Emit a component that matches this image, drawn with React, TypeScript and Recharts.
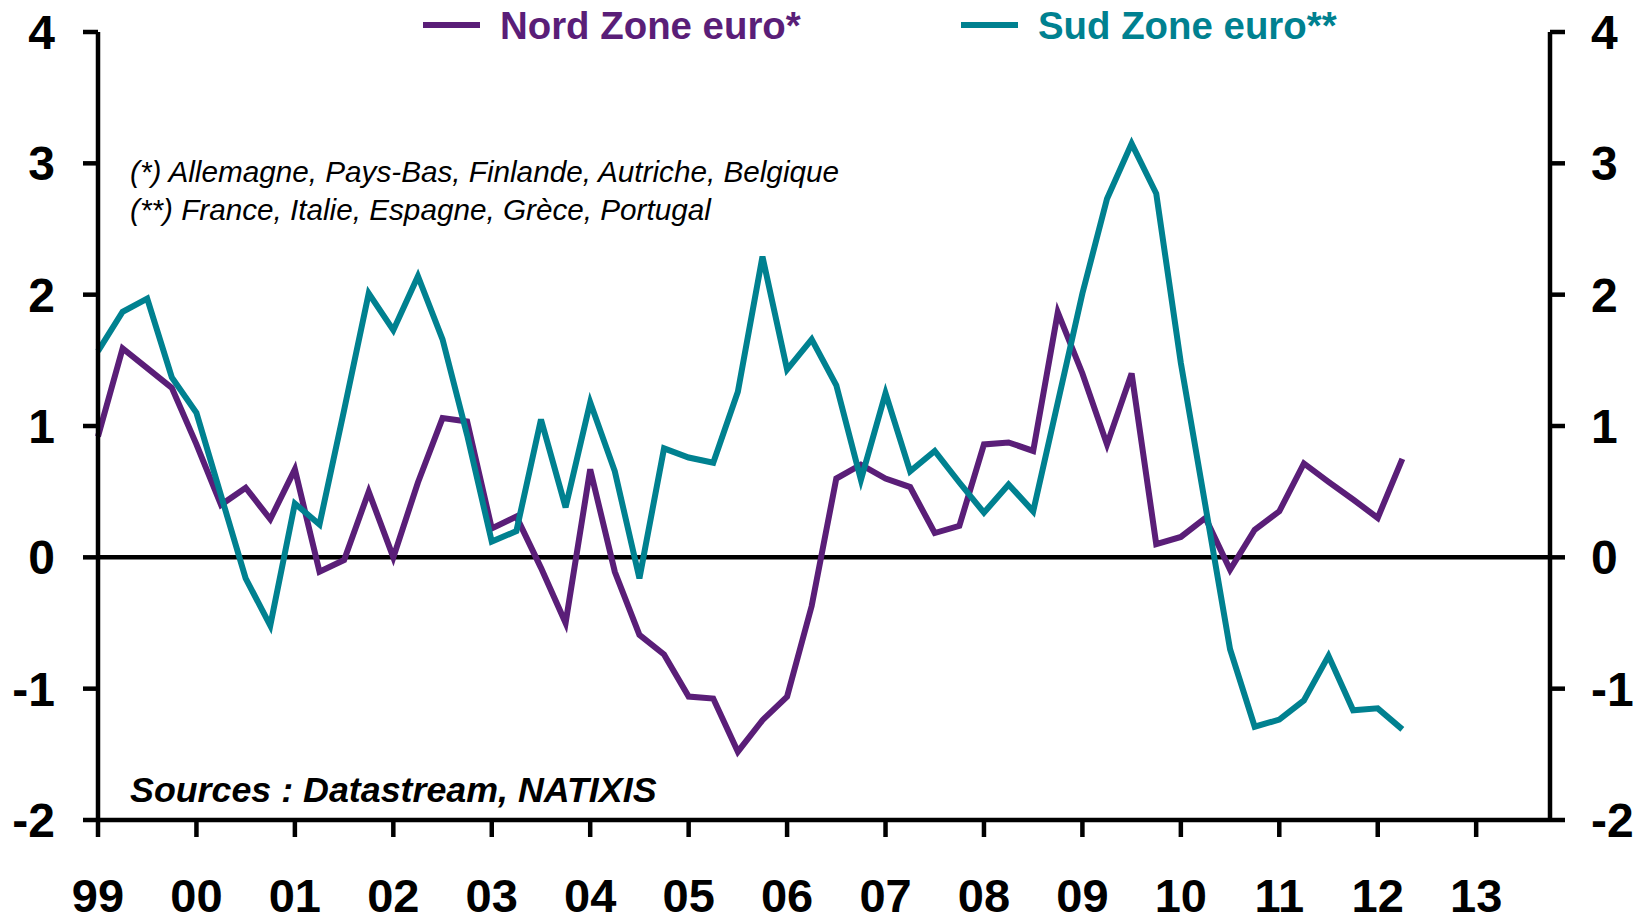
import React from 'react';
import { LineChart, Line, XAxis, YAxis, ReferenceLine, Legend } from 'recharts';

const PURPLE = '#5A1E78';
const TEAL = '#008190';
const FONT = '"Liberation Sans", Arial, Helvetica, sans-serif';

const quarters = [
  '1999T1', '1999T2', '1999T3', '1999T4', '2000T1', '2000T2', '2000T3', '2000T4',
  '2001T1', '2001T2', '2001T3', '2001T4', '2002T1', '2002T2', '2002T3', '2002T4',
  '2003T1', '2003T2', '2003T3', '2003T4', '2004T1', '2004T2', '2004T3', '2004T4',
  '2005T1', '2005T2', '2005T3', '2005T4', '2006T1', '2006T2', '2006T3', '2006T4',
  '2007T1', '2007T2', '2007T3', '2007T4', '2008T1', '2008T2', '2008T3', '2008T4',
  '2009T1', '2009T2', '2009T3', '2009T4', '2010T1', '2010T2', '2010T3', '2010T4',
  '2011T1', '2011T2', '2011T3', '2011T4', '2012T1', '2012T2',
];

const nord = [
  0.92, 1.59, 1.44, 1.29, 0.86, 0.40, 0.53, 0.29,
  0.67, -0.11, -0.02, 0.50, 0.00, 0.57, 1.06, 1.035,
  0.22, 0.31, -0.08, -0.50, 0.67, -0.11, -0.59, -0.74,
  -1.06, -1.075, -1.48, -1.24, -1.06, -0.37, 0.60, 0.705,
  0.60, 0.535, 0.185, 0.24, 0.86, 0.875, 0.81, 1.865,
  1.40, 0.86, 1.40, 0.10, 0.155, 0.30, -0.095, 0.21,
  0.35, 0.715, 0.575, 0.44, 0.30, 0.75,
];

const sud = [
  1.57, 1.87, 1.97, 1.37, 1.10, 0.47, -0.16, -0.52,
  0.41, 0.25, 1.12, 2.01, 1.73, 2.14, 1.66, 0.93,
  0.12, 0.20, 1.05, 0.38, 1.18, 0.655, -0.16, 0.83,
  0.76, 0.72, 1.26, 2.29, 1.43, 1.66, 1.31, 0.59,
  1.25, 0.655, 0.81, 0.57, 0.34, 0.555, 0.35, 1.18,
  2.01, 2.73, 3.15, 2.77, 1.48, 0.39, -0.70, -1.29,
  -1.235, -1.09, -0.75, -1.165, -1.15, -1.31,
];

const yearLabels = ['99', '00', '01', '02', '03', '04', '05', '06', '07', '08', '09', '10', '11', '12', '13'];
const yearTicks = [0, 4, 8, 12, 16, 20, 24, 28, 32, 36, 40, 44, 48, 52, 56];
const yTicks = [-2, -1, 0, 1, 2, 3, 4];

const seriesNames = { nord: 'Nord Zone euro*', sud: 'Sud Zone euro**' };
const noteLines = [
  '(*) Allemagne, Pays-Bas, Finlande, Autriche, Belgique',
  '(**) France, Italie, Espagne, Grèce, Portugal',
];
const sourceText = 'Sources : Datastream, NATIXIS';

const data = quarters.map((q, i) => ({ q, t: i, nord: nord[i], sud: sud[i] }));

const legendX = [423, 961];

const LegendContent = (props: any) => {
  const payload = props.payload || [];
  return (
    <svg width={1643} height={60} style={{ display: 'block' }}>
      {payload.map((p: any, i: number) => (
        <g key={p.value}>
          <line x1={legendX[i]} x2={legendX[i] + 57} y1={25} y2={25} stroke={p.color} strokeWidth={6} />
          <text x={legendX[i] + 77} y={39} fill={p.color} fontFamily={FONT} fontWeight="bold" fontSize={38.4}>
            {p.value}
          </text>
        </g>
      ))}
    </svg>
  );
};

const tickStyle = { fontFamily: FONT, fontWeight: 'bold', fontSize: 48, fill: '#000' } as any;
const xTickStyle = { fontFamily: FONT, fontWeight: 'bold', fontSize: 47, fill: '#000' } as any;

export default function App() {
  return (
    <div style={{ position: 'absolute', left: 0, top: 0, width: 1643, height: 924, background: '#fff' }}>
      <LineChart width={1643} height={924} data={data} margin={{ top: 32, right: 0, bottom: 0, left: 0 }}>
        <XAxis
          dataKey="t"
          type="number"
          domain={[0, 59]}
          ticks={yearTicks}
          tickFormatter={(v: number) => yearLabels[yearTicks.indexOf(v)]}
          height={104}
          tickSize={17}
          tickMargin={42}
          stroke="#000"
          axisLine={{ stroke: '#000', strokeWidth: 4.5 }}
          tickLine={{ stroke: '#000', strokeWidth: 4.5 }}
          tick={xTickStyle}
          interval={0}
        />
        <YAxis
          yAxisId="left"
          domain={[-2, 4]}
          ticks={yTicks}
          width={98}
          tickSize={15}
          tickMargin={28}
          axisLine={{ stroke: '#000', strokeWidth: 4.5 }}
          tickLine={{ stroke: '#000', strokeWidth: 4.5 }}
          tick={tickStyle}
          interval={0}
        />
        <YAxis
          yAxisId="right"
          orientation="right"
          domain={[-2, 4]}
          ticks={yTicks}
          width={93}
          tickSize={15}
          tickMargin={26}
          axisLine={{ stroke: '#000', strokeWidth: 4.5 }}
          tickLine={{ stroke: '#000', strokeWidth: 4.5 }}
          tick={tickStyle}
          interval={0}
        />
        <ReferenceLine yAxisId="left" y={0} stroke="#000" strokeWidth={4.5} />
        <Legend
          layout="vertical"
          align="center"
          verticalAlign="middle"
          content={<LegendContent />}
          wrapperStyle={{ position: 'absolute', top: 0, left: 0, width: 1643, height: 60 }}
        />
        <Line
          yAxisId="left"
          type="linear"
          dataKey="nord"
          name={seriesNames.nord}
          stroke={PURPLE}
          strokeWidth={6}
          dot={false}
          activeDot={false}
          isAnimationActive={false}
        />
        <Line
          yAxisId="right"
          type="linear"
          dataKey="sud"
          name={seriesNames.sud}
          stroke={TEAL}
          strokeWidth={6}
          dot={false}
          activeDot={false}
          isAnimationActive={false}
        />
      </LineChart>
      <svg
        width={1643}
        height={924}
        style={{ position: 'absolute', left: 0, top: 0, pointerEvents: 'none' }}
      >
        {noteLines.map((line, i) => (
          <text key={i} x={130} y={182 + i * 38} fontFamily={FONT} fontStyle="italic" fontSize={29.7} fill="#000">
            {line}
          </text>
        ))}
        <text x={130} y={802} fontFamily={FONT} fontStyle="italic" fontWeight="bold" fontSize={35.8} fill="#000">
          {sourceText}
        </text>
      </svg>
    </div>
  );
}
